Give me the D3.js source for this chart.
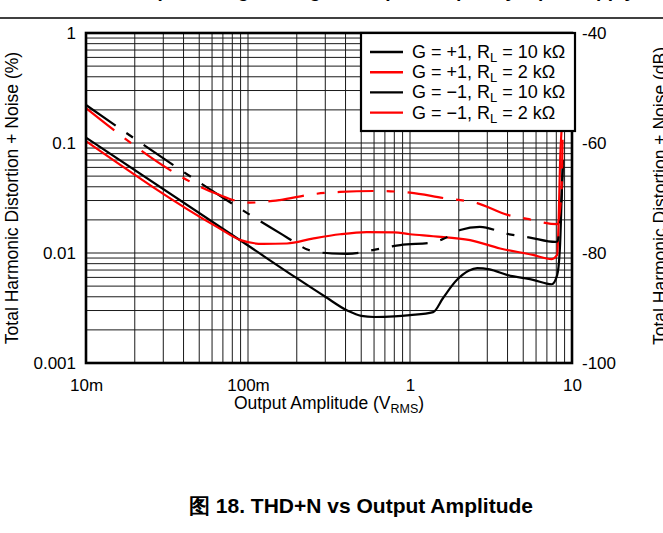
<!DOCTYPE html>
<html>
<head>
<meta charset="utf-8">
<script src="https://cdn.jsdelivr.net/npm/d3@7"></script>
<style>
  html, body { margin: 0; padding: 0; background: #fff; }
  svg { display: block; font-family: "Liberation Sans", Arial, Helvetica, sans-serif; }
</style>
</head>
<body>
<svg id="chart" width="663" height="533"></svg>
<script>
// Output amplitude (V RMS) and THD+N (%) for each configuration
const ampPos10k = [0.01, 0.1, 0.2, 0.3, 0.41, 0.5, 0.6, 0.8, 1.0, 1.39, 1.6, 1.95, 2.3, 2.6, 3.1, 4.0, 5.75, 7.5, 8.1, 8.45, 8.65, 8.8];
const thdPos10k = [0.112, 0.0117, 0.0059, 0.0040, 0.0030, 0.00268, 0.00262, 0.00265, 0.00272, 0.0029, 0.0039, 0.0057, 0.0069, 0.0073, 0.0071, 0.0063, 0.0057, 0.0052, 0.0063, 0.0123, 0.035, 0.07];

const ampPos2k = [0.01, 0.065, 0.09, 0.124, 0.174, 0.25, 0.37, 0.54, 0.8, 1.0, 1.39, 2.35, 3.6, 5.75, 7.5, 8.1, 8.25, 8.45, 8.8];
const thdPos2k = [0.104, 0.0171, 0.0131, 0.0121, 0.0122, 0.0135, 0.0148, 0.0155, 0.0154, 0.0148, 0.0142, 0.0131, 0.0110, 0.0096, 0.0088, 0.0096, 0.0173, 0.07, 0.18];

const ampNeg10k = [0.01, 0.1, 0.164, 0.2, 0.23, 0.26, 0.33, 0.41, 0.62, 0.87, 1.39, 1.6, 2.04, 2.7, 4.0, 5.5, 7.9, 8.1, 8.64, 8.8];
const thdNeg10k = [0.2215, 0.0228, 0.0146, 0.0122, 0.0108, 0.0103, 0.0099, 0.0098, 0.0108, 0.0118, 0.0125, 0.0134, 0.0162, 0.0173, 0.0149, 0.0138, 0.0126, 0.0127, 0.035, 0.07];

const ampNeg2k = [0.01, 0.064, 0.09, 0.103, 0.157, 0.25, 0.37, 0.62, 1.0, 1.6, 2.6, 4.0, 5.3, 8.1, 8.6, 8.75];
const thdNeg2k = [0.208, 0.0345, 0.0292, 0.0287, 0.0303, 0.0342, 0.0359, 0.0366, 0.0354, 0.0316, 0.0284, 0.0222, 0.0204, 0.0183, 0.035, 0.107];

const xTickValues = [0.01, 0.1, 1, 10];
const xTickLabels = ["10m", "100m", "1", "10"];
const yTickValues = [0.001, 0.01, 0.1, 1];
const yTickLabels = ["0.001", "0.01", "0.1", "1"];
const dbTickValues = [-100, -80, -60, -40];
const dbTickLabels = ["-100", "-80", "-60", "-40"];

const series = [
  { gain: "+1", load: "10 k\u03A9", amp: ampPos10k, thd: thdPos10k, color: "#000000", dashed: false },
  { gain: "+1", load: "2 k\u03A9",  amp: ampPos2k,  thd: thdPos2k,  color: "#ff0000", dashed: false },
  { gain: "\u22121", load: "10 k\u03A9", amp: ampNeg10k, thd: thdNeg10k, color: "#000000", dashed: true },
  { gain: "\u22121", load: "2 k\u03A9",  amp: ampNeg2k,  thd: thdNeg2k,  color: "#ff0000", dashed: true }
];

const svg = d3.select("#chart");
const plotL = 86, plotR = 572, plotT = 33, plotB = 363;

const x = d3.scaleLog().domain([0.01, 10]).range([plotL, plotR]);
const y = d3.scaleLog().domain([0.001, 1]).range([plotB, plotT]);
const yDb = d3.scaleLinear().domain([-100, -40]).range([plotB, plotT]);

// Header strip with rule
svg.append("text")
  .attr("x", 380).attr("y", -3)
  .attr("text-anchor", "middle")
  .attr("font-size", 19).attr("font-weight", "bold")
  .text("Output Voltage Swing vs Output Frequency, Split Supply");
svg.append("line")
  .attr("x1", 0).attr("x2", 663).attr("y1", 18).attr("y2", 18)
  .attr("stroke", "#000").attr("stroke-width", 1.5);

// Log grid: 1..9 within each decade
const gridX = [], gridY = [];
for (let e = -2; e < 1; e++) for (let m = 1; m <= 9; m++) gridX.push(m * Math.pow(10, e));
for (let e = -3; e < 0; e++) for (let m = 1; m <= 9; m++) gridY.push(m * Math.pow(10, e));

const grid = svg.append("g").attr("stroke", "#1a1a1a").attr("stroke-width", 1);
grid.selectAll(".gx").data(gridX.filter(v => v > 0.01)).join("line")
  .attr("x1", d => x(d)).attr("x2", d => x(d))
  .attr("y1", plotT).attr("y2", plotB);
grid.selectAll(".gy").data(gridY.filter(v => v > 0.001)).join("line")
  .attr("x1", plotL).attr("x2", plotR)
  .attr("y1", d => y(d)).attr("y2", d => y(d));

// Curves
const line = d3.line()
  .x(d => x(d[0]))
  .y(d => y(d[1]))
  .curve(d3.curveMonotoneX);

svg.append("g").selectAll("path").data(series).join("path")
  .attr("d", s => line(s.amp.map((a, i) => [a, s.thd[i]])))
  .attr("fill", "none")
  .attr("stroke", s => s.color)
  .attr("stroke-width", 2.2)
  .attr("stroke-linejoin", "round")
  .attr("stroke-dasharray", s => s.dashed ? "36,13,8,13" : null);

// Frame
svg.append("rect")
  .attr("x", plotL).attr("y", plotT)
  .attr("width", plotR - plotL).attr("height", plotB - plotT)
  .attr("fill", "none").attr("stroke", "#000").attr("stroke-width", 2.6);

// Axes
const axisL = d3.axisLeft(y).tickValues(yTickValues)
  .tickFormat((d, i) => yTickLabels[i]).tickSize(0).tickPadding(10);
const gl = svg.append("g").attr("transform", `translate(${plotL},0)`).call(axisL);

const axisB = d3.axisBottom(x).tickValues(xTickValues)
  .tickFormat((d, i) => xTickLabels[i]).tickSize(0).tickPadding(16);
const gb = svg.append("g").attr("transform", `translate(0,${plotB})`).call(axisB);

const axisR = d3.axisRight(yDb).tickValues(dbTickValues)
  .tickFormat((d, i) => dbTickLabels[i]).tickSize(0).tickPadding(10);
const gr = svg.append("g").attr("transform", `translate(${plotR},0)`).call(axisR);

[gl, gb, gr].forEach(g => {
  g.select(".domain").remove();
  g.selectAll("text").attr("font-size", 17).attr("fill", "#000")
    .attr("font-family", "'Liberation Sans', Arial, sans-serif");
});

// Axis titles
svg.append("text")
  .attr("transform", "translate(18,198) rotate(-90)")
  .attr("text-anchor", "middle").attr("font-size", 17.5)
  .text("Total Harmonic Distortion + Noise (%)");

svg.append("text")
  .attr("transform", "translate(666,196) rotate(-90)")
  .attr("text-anchor", "middle").attr("font-size", 17.5)
  .text("Total Harmonic Distortion + Noise (dB)");

const xt = svg.append("text")
  .attr("x", 329).attr("y", 409)
  .attr("text-anchor", "middle").attr("font-size", 17.5);
xt.append("tspan").text("Output Amplitude (V");
xt.append("tspan").attr("font-size", 12.5).attr("dy", 4).text("RMS");
xt.append("tspan").attr("dy", -4).text(")");

// Legend
const lg = svg.append("g");
lg.append("rect")
  .attr("x", 361).attr("y", plotT).attr("width", 214).attr("height", 98)
  .attr("fill", "#fff").attr("stroke", "#000").attr("stroke-width", 2.2);
const rows = lg.selectAll(".row").data(series).join("g")
  .attr("transform", (d, i) => `translate(0,${52 + i * 20.2})`);
rows.append("line")
  .attr("x1", 370).attr("x2", 403)
  .attr("stroke", d => d.color).attr("stroke-width", 2.4);
const lt = rows.append("text")
  .attr("x", 412).attr("y", 6).attr("font-size", 18);
lt.append("tspan").text(d => `G = ${d.gain}, R`);
lt.append("tspan").attr("font-size", 13).attr("dy", 4).text("L");
lt.append("tspan").attr("dy", -4).text(d => ` = ${d.load}`);

// Caption
svg.append("text")
  .attr("x", 361).attr("y", 513)
  .attr("text-anchor", "middle").attr("font-size", 21).attr("font-weight", "bold")
  .text("\u56FE 18. THD+N vs Output Amplitude");
</script>
</body>
</html>
